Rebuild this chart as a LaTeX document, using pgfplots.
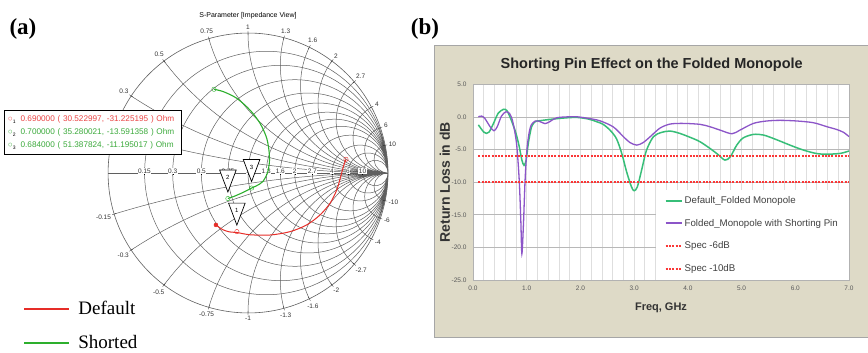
\documentclass[border=0pt]{standalone}
\usepackage{pgfplots}
\pgfplotsset{compat=1.18}
\usepgfplotslibrary{smithchart}
\usepackage{fontspec}
\setmainfont{Liberation Sans}
\newfontfamily\seriffont{Liberation Serif}
\definecolor{gridgray}{RGB}{95,95,95}
\definecolor{smgreen}{RGB}{45,175,45}
\definecolor{smred}{RGB}{230,45,40}
\definecolor{txtred}{RGB}{235,70,70}
\definecolor{txtgreen}{RGB}{60,170,60}
\definecolor{beige}{RGB}{222,218,199}
\definecolor{rlgreen}{RGB}{55,190,120}
\definecolor{rlpurple}{RGB}{140,85,200}
\definecolor{specred}{RGB}{250,55,55}
\definecolor{ticktxt}{RGB}{90,90,90}
\newcommand\deftri[1]{%
\pgfdeclareplotmark{tri#1}{%
  \pgfpathmoveto{\pgfqpoint{-8.3pt}{28.5pt}}%
  \pgfpathlineto{\pgfqpoint{8.3pt}{28.5pt}}%
  \pgfpathlineto{\pgfqpoint{0pt}{6.5pt}}%
  \pgfpathclose
  \pgfusepathqfillstroke
  \pgftext[y=21pt]{\fontsize{6}{7}\selectfont #1}}}
\deftri{1}\deftri{2}\deftri{3}

\pgfplotstableread{
f db
0.1 -1.2
0.2 -2.3
0.25 -2.5
0.3 -2.3
0.38 -1.0
0.47 0.6
0.57 1.2
0.63 1.0
0.69 0.0
0.75 -1.3
0.8 -2.5
0.86 -4.5
0.91 -6.6
0.95 -7.4
0.99 -6.6
1.03 -4.0
1.09 -1.5
1.16 -0.7
1.25 -0.55
1.43 -0.36
1.68 -0.15
1.93 -0.05
2.15 -0.3
2.3 -0.7
2.42 -1.1
2.55 -2.0
2.67 -3.3
2.77 -5.6
2.86 -8.4
2.95 -10.7
3.0 -11.3
3.06 -10.7
3.14 -8.1
3.23 -5.1
3.36 -3.0
3.51 -2.35
3.67 -2.15
3.85 -2.5
4.1 -3.3
4.23 -3.8
4.41 -4.8
4.57 -5.8
4.69 -6.6
4.79 -6.1
4.91 -4.3
5.03 -3.2
5.22 -2.66
5.41 -2.76
5.66 -3.5
5.9 -4.3
6.15 -5.06
6.4 -5.6
6.59 -5.7
6.84 -5.57
7.0 -5.2
}\defaulttab

\pgfplotstableread{
f db
0.1 0.05
0.16 0.15
0.22 -0.2
0.32 -1.5
0.39 -2.1
0.45 -1.5
0.53 0.15
0.61 0.8
0.68 0.56
0.74 -0.7
0.81 -4.0
0.86 -9.6
0.89 -15.8
0.91 -21.0
0.94 -16.3
0.97 -9.6
1.01 -4.5
1.07 -1.5
1.16 -0.6
1.25 -0.7
1.34 -1.0
1.43 -0.7
1.56 -0.1
1.81 0.05
1.93 0.05
2.15 -0.2
2.36 -0.56
2.61 -1.5
2.8 -3.0
2.92 -3.9
3.05 -4.3
3.17 -3.9
3.3 -3.0
3.48 -1.7
3.67 -1.07
3.92 -0.97
4.23 -1.12
4.41 -1.48
4.6 -2.0
4.82 -2.56
4.97 -2.0
5.22 -0.97
5.47 -0.6
5.72 -0.5
6.03 -0.6
6.34 -0.87
6.59 -1.48
6.77 -1.9
6.9 -2.35
7.0 -3.0
}\shortedtab

\begin{document}
\begin{tikzpicture}
\useasboundingbox (0,0) rectangle (868pt,353pt);

% ---------------- panel (a) ----------------
\begin{smithchart}[
  at={(248pt,180pt)}, anchor=center,
  scale only axis, width=280pt, height=280pt,
  xtick={0.15,0.3,0.5,0.75,1,1.3,1.6,2,2.7,4,6,10},
  ytick={-10,-6,-4,-2.7,-2,-1.6,-1.3,-1,-0.75,-0.5,-0.3,-0.15,0.15,0.3,0.5,0.75,1,1.3,1.6,2,2.7,4,6,10},
  yticklabels={-10,-6,-4,-2.7,-2,-1.6,-1.3,-1,-0.75,-0.5,-0.3,-0.15,{},0.3,0.5,0.75,1,1.3,1.6,2,2.7,4,6,10},
  minor xtick={}, minor ytick={},
  grid style={gridgray, line width=0.5pt},
  axis line style={gridgray, line width=0.6pt},
  tick style={draw=none},
  ticklabel style={font=\fontsize{6.5}{7}\selectfont, text=black!80},
  yticklabel style={inner sep=0.8pt},
  /pgf/number format/assume math mode=true,
  xticklabel style={anchor=center, fill=white, inner sep=0.5pt},
  title={S-Parameter [Impedance View]},
  title style={font=\fontsize{7}{8}\selectfont, at={(axis description cs:0.5,1)}, anchor=center, yshift=3pt},
  legend style={at={(axis description cs:-0.313,0.056)}, anchor=north west, draw=none, fill=none,
    font=\seriffont\fontsize{19}{22}\selectfont, row sep=15pt, column sep=6pt, cells={anchor=west}},
  legend image code/.code={\draw[#1] (0pt,0pt) -- (45pt,0pt);},
]
\addplot[forget plot, smred, line width=1pt, smooth, is smithchart cs] coordinates {
(-0.229,-0.371) (-0.18,-0.405) (-0.13,-0.421) (-0.08,-0.425) (0.014,-0.441)
(0.157,-0.443) (0.3,-0.419) (0.419,-0.371) (0.514,-0.3) (0.586,-0.216)
(0.634,-0.121) (0.662,-0.026) (0.681,0.045) (0.7,0.098)};
\addplot[forget plot, smgreen, line width=1.1pt, smooth, is smithchart cs] coordinates {
(-0.243,0.598) (-0.176,0.581) (-0.081,0.534) (0.014,0.45) (0.086,0.355)
(0.134,0.248) (0.152,0.141) (0.152,0.069) (0.138,-0.002) (0.105,-0.062)
(0.06,-0.092) (0.0256,-0.1076) (-0.034,-0.138) (-0.095,-0.165) (-0.1435,-0.182)};
\addlegendimage{smred, line width=1.8pt}
\addlegendentry{Default}
\addlegendimage{smgreen, line width=1.8pt}
\addlegendentry{Shorted}
% end points and markers
\addplot[forget plot, only marks, mark=*, mark size=2pt, smred, is smithchart cs] coordinates {(-0.229,-0.371)};
\addplot[forget plot, only marks, mark=o, mark size=2.2pt, smred, mark options={fill=white}, is smithchart cs] coordinates {(0.7,0.098)};
\addplot[forget plot, only marks, mark=o, mark size=2.2pt, smgreen, mark options={fill=white}, is smithchart cs] coordinates {(-0.243,0.598)};
\addplot[forget plot, only marks, mark=o, mark size=2.2pt, smred, mark options={fill=white}] coordinates {(0.6105,-0.6245)};
\addplot[forget plot, only marks, mark=o, mark size=2.2pt, smgreen, mark options={fill=white}] coordinates {(0.7056,-0.2718) (1.0278,-0.2239)};
\addplot[forget plot, only marks, mark=tri1, mark options={draw=black, fill=white, line width=0.7pt}] coordinates {(0.6105,-0.6245)};
\addplot[forget plot, only marks, mark=tri2, mark options={draw=black, fill=white, line width=0.7pt}] coordinates {(0.7056,-0.2718)};
\addplot[forget plot, only marks, mark=tri3, mark options={draw=black, fill=white, line width=0.7pt}] coordinates {(1.0278,-0.2239)};
\end{smithchart}

\node[anchor=north west, draw=black, line width=0.8pt, fill=white, inner xsep=3pt, inner ysep=2pt,
  align=left, font=\fontsize{8.2}{13}\selectfont, minimum width=177pt, minimum height=44pt, text width=170pt]
  at (4pt,243pt) {%
  \textcolor{txtred}{○\raisebox{-2.5pt}{\fontsize{5}{5}\selectfont\color{black}1}\hspace{5pt}0.690000 ( 30.522997, -31.225195 ) Ohm}\\
  \textcolor{txtgreen}{○\raisebox{-2.5pt}{\fontsize{5}{5}\selectfont\color{black}2}\hspace{5pt}0.700000 ( 35.280021, -13.591358 ) Ohm}\\
  \textcolor{txtgreen}{○\raisebox{-2.5pt}{\fontsize{5}{5}\selectfont\color{black}3}\hspace{5pt}0.684000 ( 51.387824, -11.195017 ) Ohm}};

\node[font=\seriffont\bfseries\fontsize{23}{26}\selectfont] at (23pt,324pt) {(a)};
\node[font=\seriffont\bfseries\fontsize{23}{26}\selectfont] at (425pt,324pt) {(b)};

% ---------------- panel (b) ----------------
\fill[beige, draw=black!35, line width=0.6pt] (434pt,16pt) rectangle (868pt,308pt);
\begin{axis}[
  at={(473pt,73pt)}, anchor=south west,
  scale only axis, width=376pt, height=195.5pt,
  xmin=0, xmax=7, ymin=-25, ymax=5,
  xtick={0,1,...,7}, ytick={-25,-20,...,5},
  minor xtick={0.2,0.4,0.6,0.8,1.2,1.4,1.6,1.8,2.2,2.4,2.6,2.8,3.2,3.4,3.6,3.8,4.2,4.4,4.6,4.8,5.2,5.4,5.6,5.8,6.2,6.4,6.6,6.8},
  xmajorgrids, xminorgrids, ymajorgrids,
  major x grid style={black!13, line width=0.8pt},
  minor x grid style={black!13, line width=0.8pt},
  major y grid style={black!28, line width=0.8pt},
  tick style={draw=none},
  axis line style={black!30},
  axis background/.style={fill=white},
  /pgf/number format/assume math mode=true,
  /pgf/number format/.cd, fixed, fixed zerofill, precision=1, /pgfplots/.cd,
  ticklabel style={font=\fontsize{6.5}{7}\selectfont, text=ticktxt},
  yticklabel style={xshift=-3pt},
  xticklabel style={yshift=-2pt},
  title={Shorting Pin Effect on the Folded Monopole},
  title style={font=\bfseries\fontsize{14.5}{16}\selectfont, at={(axis description cs:0.5,1)}, anchor=center, yshift=13.5pt, xshift=-9.3pt, text=black!85},
  xlabel={Freq, GHz},
  xlabel style={font=\bfseries\fontsize{11}{12}\selectfont, at={(axis description cs:0.5,0)}, anchor=center, yshift=-28pt, text=black!80},
  ylabel={Return Loss in dB},
  ylabel style={font=\bfseries\fontsize{14}{15}\selectfont, at={(axis description cs:-0.075,0.5)}, anchor=center, text=black!80},
  legend style={at={(1,0)}, anchor=south east, fill=white, draw=none,
    font=\fontsize{9.7}{12}\selectfont, text=black!75,
    inner xsep=9pt, inner ysep=5pt, row sep=10pt, cells={anchor=west}},
  legend image code/.code={\draw[#1] (0pt,0pt) -- (16pt,0pt);},
]
\addplot[forget plot, rlgreen, line width=1.5pt, smooth] table[x=f, y=db] {\defaulttab};
\addplot[forget plot, rlpurple, line width=1.3pt, smooth] table[x=f, y=db] {\shortedtab};
\addplot[forget plot, specred, line width=1.5pt, dash pattern=on 2pt off 1.3pt] coordinates {(0.1,-6) (7,-6)};
\addplot[forget plot, specred, line width=1.5pt, dash pattern=on 2pt off 1.3pt] coordinates {(0.1,-10) (7,-10)};
\addlegendimage{rlgreen, line width=2pt}
\addlegendentry{Default\_Folded Monopole}
\addlegendimage{rlpurple, line width=2pt}
\addlegendentry{Folded\_Monopole with Shorting Pin}
\addlegendimage{specred, line width=2pt, dash pattern=on 2pt off 1.3pt}
\addlegendentry{Spec -6dB}
\addlegendimage{specred, line width=2pt, dash pattern=on 2pt off 1.3pt}
\addlegendentry{Spec -10dB}
\end{axis}
\end{tikzpicture}
\end{document}
